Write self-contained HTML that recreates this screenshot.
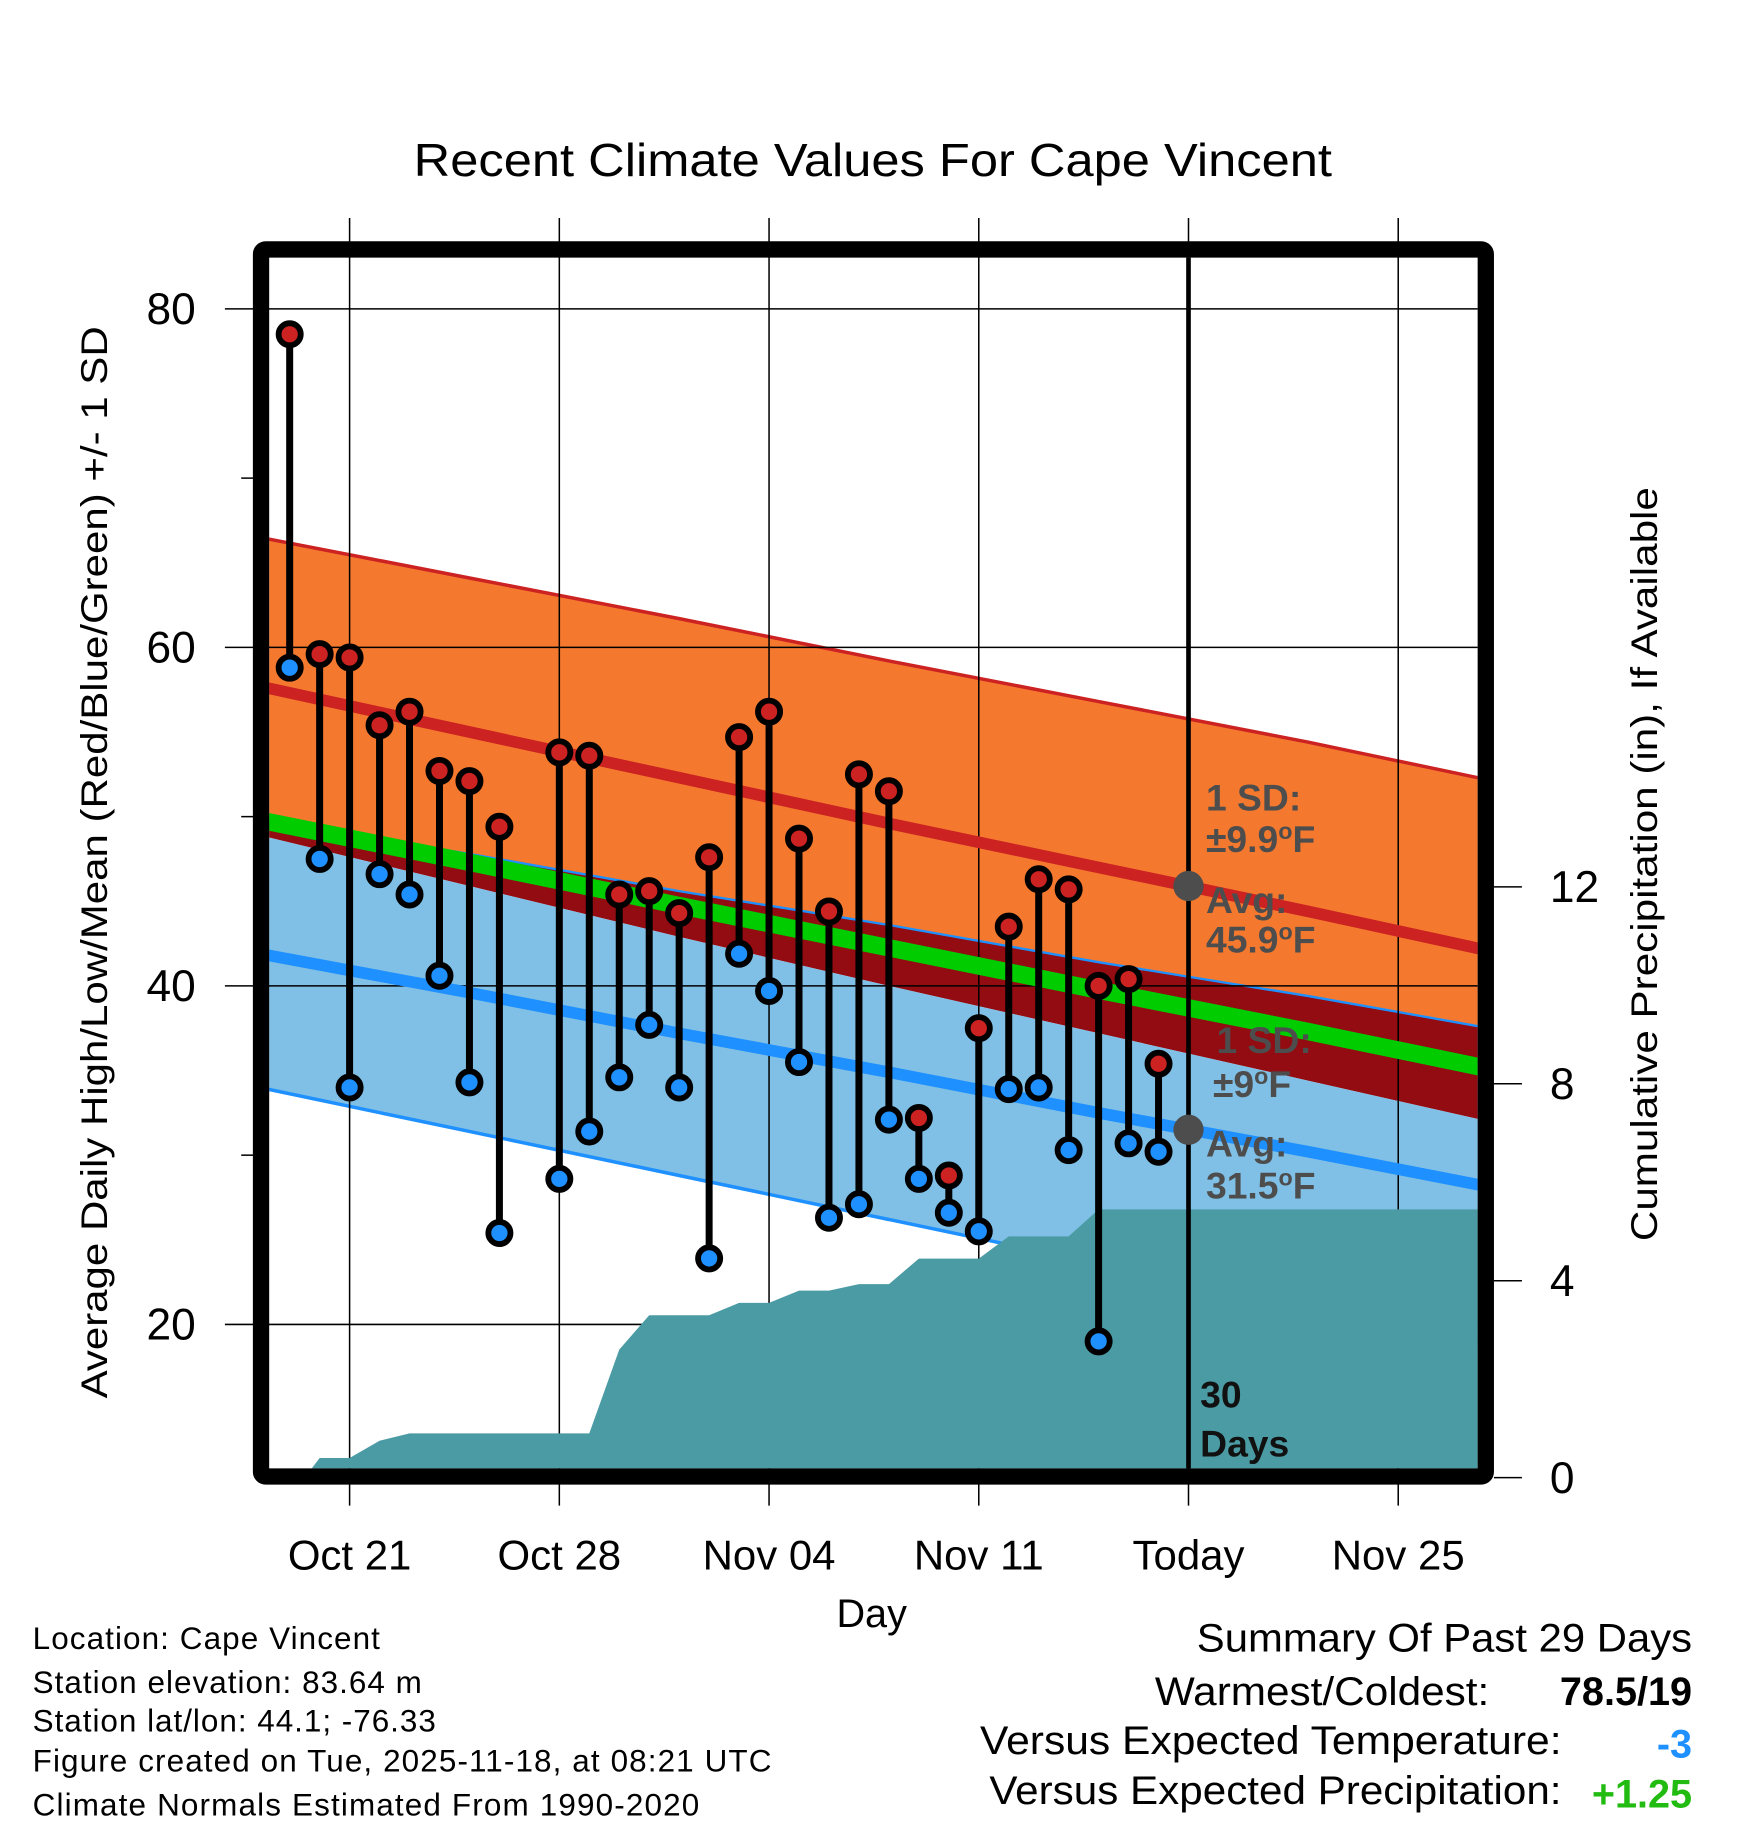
<!DOCTYPE html>
<html><head><meta charset="utf-8"><style>
html,body{margin:0;padding:0;background:#fff}
svg{display:block;font-family:"Liberation Sans",Arial,sans-serif}
</style></head><body>
<svg id="chart" width="1748" height="1828" viewBox="0 0 1500 1568.6" xmlns="http://www.w3.org/2000/svg">
<defs><clipPath id="pc"><rect x="231" y="221" width="1037" height="1039"/></clipPath></defs>
<rect width="1500" height="1568.6" fill="#fff"/>
<text x="355" y="151" font-size="40" textLength="788" lengthAdjust="spacingAndGlyphs">Recent Climate Values For Cape Vincent</text>
<g id="normals" clip-path="url(#pc)"></g>
<g id="grid"></g>
<g id="precip" clip-path="url(#pc)"></g>
<g id="meanlines" clip-path="url(#pc)"></g>
<g id="marks"></g>
<g id="annot"></g>
<rect x="224" y="214" width="1051" height="1053" fill="none" stroke="#000" stroke-width="14" rx="4"/>
<g id="axes"></g>
<text transform="translate(92,1200) rotate(-90)" font-size="32" textLength="920" lengthAdjust="spacingAndGlyphs">Average Daily High/Low/Mean (Red/Blue/Green) +/- 1 SD</text>
<text transform="translate(1422,1065) rotate(-90)" font-size="32" textLength="647" lengthAdjust="spacingAndGlyphs">Cumulative Precipitation (in), If Available</text>
<text x="748" y="1396" font-size="34" text-anchor="middle">Day</text>
<g font-size="27" lengthAdjust="spacingAndGlyphs">
<text x="28" y="1415" textLength="298">Location: Cape Vincent</text>
<text x="28" y="1453" textLength="334">Station elevation: 83.64 m</text>
<text x="28" y="1486" textLength="346">Station lat/lon: 44.1; -76.33</text>
<text x="28" y="1520" textLength="634">Figure created on Tue, 2025-11-18, at 08:21 UTC</text>
<text x="28" y="1558" textLength="572">Climate Normals Estimated From 1990-2020</text>
</g>
<g font-size="34">
<text x="1027" y="1417" textLength="425" lengthAdjust="spacingAndGlyphs">Summary Of Past 29 Days</text>
<text x="991" y="1463" textLength="287" lengthAdjust="spacingAndGlyphs">Warmest/Coldest:</text>
<text x="1452" y="1463" font-weight="bold" text-anchor="end">78.5/19</text>
<text x="841" y="1505" textLength="499" lengthAdjust="spacingAndGlyphs">Versus Expected Temperature:</text>
<text x="1452" y="1508" font-weight="bold" fill="#1e90ff" text-anchor="end">-3</text>
<text x="849" y="1548" textLength="491" lengthAdjust="spacingAndGlyphs">Versus Expected Precipitation:</text>
<text x="1452" y="1551" font-weight="bold" fill="#22bb11" text-anchor="end">+1.25</text>
</g>
</svg>
<script>
const days=[-2,-1,0,1,2,3,4,5,7,8,9,10,11,12,13,14,15,16,17,18,19,20,21,22,23,24,25,26,27];
const highs=[78.5,59.6,59.4,55.4,56.2,52.7,52.1,49.4,53.8,53.6,45.4,45.6,44.3,47.6,54.7,56.2,48.7,44.4,52.5,51.5,32.2,28.8,37.5,43.5,46.3,45.7,40,40.4,35.4];
const lows=[58.8,47.5,34,46.6,45.4,40.6,34.3,25.4,28.6,31.4,34.6,37.7,34,23.9,41.9,39.7,35.5,26.3,27.1,32.1,28.6,26.6,25.5,33.9,34,30.3,19,30.7,30.2];
const precipDays=[-1.5,-1,0,1,2,3,4,5,6,7,8,9,10,11,12,13,14,15,16,17,18,19,20,21,22,23,24,25,26,27,28,38];
const precipVals=[0,0.4,0.4,0.75,0.9,0.9,0.9,0.9,0.9,0.9,0.9,2.6,3.3,3.3,3.3,3.55,3.55,3.8,3.8,3.93,3.93,4.45,4.45,4.45,4.9,4.9,4.9,5.45,5.45,5.45,5.45,5.45];
const normDays=[-3,4,11,18,25,32,39];
const highMean=[57.7,55.0,52.3,49.6,47.0,44.4,41.7];
const highSD=[8.8,9.1,9.4,9.6,9.8,10.0,10.1];
const lowMean=[41.9,39.6,37.2,34.9,32.5,30.2,27.8];
const lowSD=[7.9,8.2,8.4,8.7,8.9,9.2,9.4];
const tempTicks=[80,60,40,20];
const tempMinor=[70,50,30];
const precipTicks=[0,4,8,12];
const dateTickDays=[0,7,14,21,28,35];
const dateTickLabels=["Oct 21","Oct 28","Nov 04","Nov 11","Today","Nov 25"];
const todayDay=28;
const todayHighAvg=45.9, todayHighSD=9.9, todayLowAvg=31.5, todayLowSD=9;

const NS="http://www.w3.org/2000/svg";
const X=d=>300+d*25.71;
const Y=t=>265+(80-t)*14.525;
const P=p=>1268-p*42.25;
function mk(tag,attrs,parent){const e=document.createElementNS(NS,tag);for(const k in attrs)e.setAttribute(k,attrs[k]);parent.appendChild(e);return e;}
const g=id=>document.getElementById(id);

const up=normDays.map((d,i)=>[X(d),Y(highMean[i]+highSD[i])]);
const hLo=normDays.map((d,i)=>[X(d),Y(highMean[i]-highSD[i])]);
const lUp=normDays.map((d,i)=>[X(d),Y(lowMean[i]+lowSD[i])]);
const lLo=normDays.map((d,i)=>[X(d),Y(lowMean[i]-lowSD[i])]);
const pts=a=>a.map(p=>p.join(',')).join(' ');
let e;
e=mk('polygon',{points:pts(up.concat(lUp.slice().reverse())),fill:'#f4792e'},g('normals'));

e=mk('polygon',{points:pts(lUp.concat(hLo.slice().reverse())),fill:'#920c12'},g('normals'));

e=mk('polygon',{points:pts(hLo.concat(lLo.slice().reverse())),fill:'#80c0e6'},g('normals'));

e=mk('polyline',{points:pts(up),fill:'none',stroke:'#cc2222','stroke-width':3},g('normals'));

e=mk('polyline',{points:pts(lUp),fill:'none',stroke:'#1e90ff','stroke-width':2},g('normals'));

e=mk('polyline',{points:pts(lLo),fill:'none',stroke:'#1e90ff','stroke-width':3},g('normals'));


tempTicks.forEach(t=>{e=mk('line',{x1:193,x2:1268,y1:Y(t),y2:Y(t),stroke:'#000','stroke-width':1.3},g('grid'));
});
dateTickDays.forEach(d=>{e=mk('line',{x1:X(d),x2:X(d),y1:187,y2:1292,stroke:'#000','stroke-width':1.3},g('grid'));
});

const pp=[[X(precipDays[0]),1268]];
precipDays.forEach((d,i)=>pp.push([X(d),P(precipVals[i])]));
pp.push([X(precipDays[precipDays.length-1]),1268]);
e=mk('polygon',{points:pts(pp),fill:'#4a9ba4'},g('precip'));


e=mk('polyline',{points:pts(normDays.map((d,i)=>[X(d),Y(highMean[i])])),fill:'none',stroke:'#cc2222','stroke-width':10},g('meanlines'));

e=mk('polyline',{points:pts(normDays.map((d,i)=>[X(d),Y((highMean[i]+lowMean[i])/2)])),fill:'none',stroke:'#00cc00','stroke-width':15},g('meanlines'));

e=mk('polyline',{points:pts(normDays.map((d,i)=>[X(d),Y(lowMean[i])])),fill:'none',stroke:'#1e90ff','stroke-width':10},g('meanlines'));


e=mk('line',{x1:X(todayDay),x2:X(todayDay),y1:221,y2:1260,stroke:'#000','stroke-width':4},g('marks'));


days.forEach((d,i)=>{
 e=mk('line',{x1:X(d),x2:X(d),y1:Y(highs[i]),y2:Y(lows[i]),stroke:'#000','stroke-width':6},g('marks'));
 
 e=mk('circle',{cx:X(d),cy:Y(highs[i]),r:9.5,fill:'#cc2222',stroke:'#000','stroke-width':5},g('marks'));
 
 e=mk('circle',{cx:X(d),cy:Y(lows[i]),r:9.5,fill:'#1e90ff',stroke:'#000','stroke-width':5},g('marks'));
 
});

const A=g('annot');
e=mk('circle',{cx:X(todayDay),cy:Y(todayHighAvg),r:13,fill:'#4d4d4d'},A);

e=mk('circle',{cx:X(todayDay),cy:Y(todayLowAvg),r:13,fill:'#4d4d4d'},A);

function txt(s,x,y,attrs,name){const t=mk('text',Object.assign({x:x,y:y},attrs),A);t.innerHTML=s;
 return t;}
const ga={'font-size':32,'font-weight':'bold',fill:'#4d4d4d'};
const tx=X(todayDay)+15;
txt('1 SD:',tx,Y(todayHighAvg)-65,ga,'high-sd-label');
txt('±'+todayHighSD+'<tspan baseline-shift="super" font-size="20">o</tspan>F',tx,Y(todayHighAvg)-29,ga,'high-sd-value');
txt('Avg:',tx,Y(todayHighAvg)+23,ga,'high-avg-label');
txt(todayHighAvg.toFixed(1)+'<tspan baseline-shift="super" font-size="20">o</tspan>F',tx,Y(todayHighAvg)+57,ga,'high-avg-value');
txt('1 SD:',tx+9,Y(todayLowAvg)-66,ga,'low-sd-label');
txt('±'+todayLowSD+'<tspan baseline-shift="super" font-size="20">o</tspan>F',tx+6,Y(todayLowAvg)-28,ga,'low-sd-value');
txt('Avg:',tx,Y(todayLowAvg)+23,ga,'low-avg-label');
txt(todayLowAvg.toFixed(1)+'<tspan baseline-shift="super" font-size="20">o</tspan>F',tx,Y(todayLowAvg)+59,ga,'low-avg-value');
const ba={'font-size':32,'font-weight':'bold',fill:'#111'};
txt('30',X(todayDay)+10,1208,ba,'days-label-number');
txt('Days',X(todayDay)+10,1250,ba,'days-label-text');

const AX=g('axes');
tempTicks.forEach(t=>{const l=mk('text',{x:168,y:Y(t)+13,'font-size':38,'text-anchor':'end'},AX);l.textContent=t;
 });
tempMinor.forEach(t=>{const l=mk('line',{x1:207,x2:218,y1:Y(t),y2:Y(t),stroke:'#000','stroke-width':1.3},AX);
 });
precipTicks.forEach(p=>{let l=mk('line',{x1:1282,x2:1306,y1:P(p),y2:P(p),stroke:'#000','stroke-width':1.3},AX);
 
 l=mk('text',{x:1330,y:P(p)+13,'font-size':38},AX);l.textContent=p;
 });
dateTickDays.forEach((d,i)=>{const l=mk('text',{x:X(d),y:1347,'font-size':36,'text-anchor':'middle'},AX);l.textContent=dateTickLabels[i];
 });
</script>
</body></html>
